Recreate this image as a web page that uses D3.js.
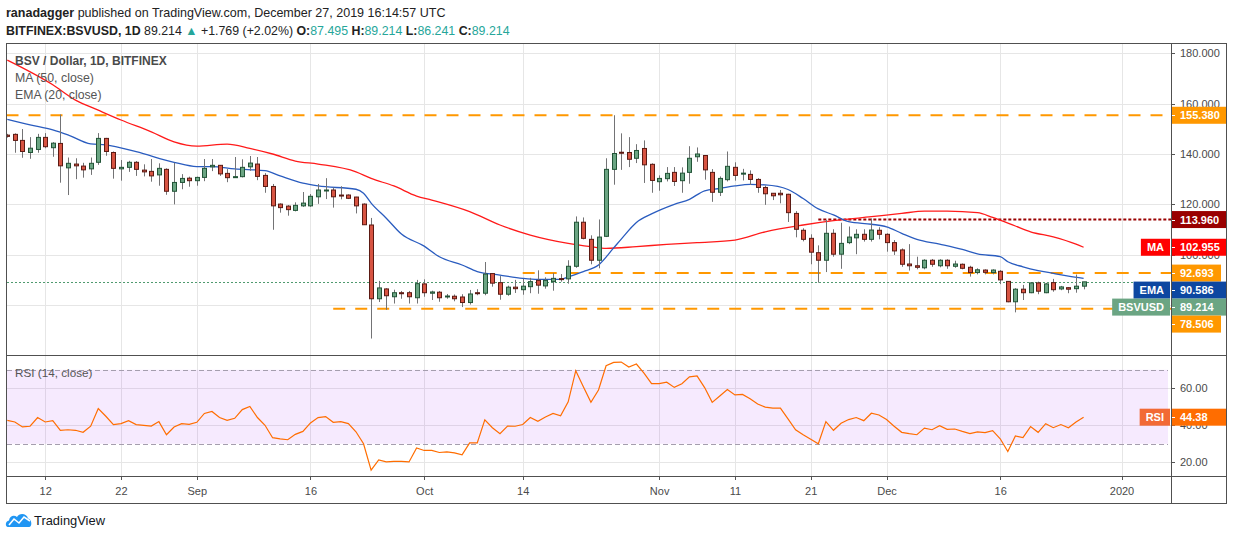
<!DOCTYPE html>
<html>
<head>
<meta charset="utf-8">
<script src="https://cdn.jsdelivr.net/npm/d3@7/dist/d3.min.js"></script>
<style>
html,body{margin:0;padding:0;background:#ffffff;}
svg{display:block;}
text{font-family:"Liberation Sans",Arial,sans-serif;}
</style>
</head>
<body>
<svg id="chart" width="1234" height="540"></svg>
<script>
// ---------------- DATA ----------------
const firstDay = "2019-08-07";
const lastDay = "2019-12-27";

const opens = [147.5,147.8,145.4,140.6,141.8,146.6,142.5,144.2,134.5,136.0,
135.2,134.1,136.7,146.2,140.6,134.1,134.7,136.7,133.6,133.1,
131.7,133.9,125.2,128.7,130.4,129.4,130.7,134.9,135.5,132.3,
130.9,131.0,134.9,136.0,131.5,127.1,120.1,119.3,117.6,119.4,
119.4,123.0,125.4,125.7,123.7,123.7,122.9,120.1,111.8,82.5,
86.4,83.3,84.9,84.9,82.9,88.4,84.7,85.1,83.3,83.5,
83.2,81.0,84.9,84.7,92.5,88.9,84.3,87.1,86.1,87.3,
89.8,87.6,89.3,90.5,90.4,95.4,112.9,106.1,97.8,107.3,
133.9,140.7,140.6,138.3,142.2,135.9,129.0,130.2,132.7,129.4,
132.7,138.9,139.4,132.7,124.8,129.8,134.7,132.0,131.9,129.9,
126.7,124.4,124.4,124.0,116.4,109.7,106.5,100.8,97.8,108.5,
100.2,104.8,106.7,108.1,106.1,109.7,108.1,104.8,101.9,96.3,
95.6,94.8,97.8,95.6,97.8,95.4,96.2,95.0,92.9,93.9,
92.9,93.4,89.4,81.3,86.3,84.9,88.8,84.9,88.9,86.4,
86.9,86.5,87.495];

const highs = [148.0,148.2,149.9,146.7,148.0,148.3,144.7,155.7,138.6,138.3,
136.5,138.6,148.3,146.4,141.0,137.6,137.3,137.2,135.9,138.0,
136.3,134.3,136.5,132.0,131.0,131.0,138.0,138.0,135.6,134.0,
138.8,137.9,139.2,138.8,132.4,128.1,120.4,119.7,120.8,124.9,
124.1,128.1,130.4,126.7,127.2,124.0,123.0,120.4,114.6,89.6,
86.7,86.1,85.6,85.6,90.0,90.2,85.7,85.6,84.4,84.2,
84.3,86.0,86.3,97.1,92.7,91.5,87.7,90.0,90.4,90.8,
93.8,91.0,92.7,92.3,97.8,115.2,114.8,107.7,114.0,138.3,
155.4,148.2,146.7,143.9,145.4,136.3,131.5,134.8,134.8,134.7,
143.1,142.6,139.5,134.0,131.1,141.0,136.7,134.1,133.5,130.4,
127.5,124.5,125.7,124.2,117.3,110.5,108.1,103.7,113.8,110.1,
112.7,111.2,110.1,110.1,114.4,110.9,108.5,105.8,102.5,104.2,
99.2,98.2,98.3,98.2,98.2,97.6,96.5,95.6,94.6,94.2,
94.2,93.9,89.5,86.7,88.0,89.0,89.3,88.8,90.4,87.6,
87.1,92.1,89.214];

const lows = [146.5,140.5,138.5,138.1,140.5,142.3,138.9,128.6,123.7,130.0,
130.6,131.7,135.7,139.3,130.2,129.4,132.9,131.3,131.1,129.0,
127.4,123.8,120.0,126.0,127.0,127.4,129.2,133.2,131.3,128.8,
130.6,130.7,133.3,129.6,124.6,109.9,116.7,115.5,117.2,119.0,
119.0,120.2,122.1,118.7,122.0,122.1,116.4,111.8,66.7,81.2,
78.1,80.6,82.5,80.6,80.6,83.3,82.0,81.3,82.5,81.5,
79.2,80.2,83.9,83.9,87.3,82.1,83.7,84.8,84.1,84.7,
84.5,86.5,85.7,89.3,88.5,94.8,106.1,96.2,94.6,107.0,
127.8,133.7,134.8,136.4,128.5,124.6,125.4,129.1,127.3,124.6,
128.2,136.9,129.8,121.0,123.3,129.1,129.4,129.5,127.7,124.6,
119.8,121.7,120.4,113.0,106.9,105.3,96.2,88.9,93.1,99.2,
94.4,104.2,100.2,105.2,105.2,106.1,101.2,99.9,95.2,93.7,
94.2,94.2,95.2,95.0,94.4,94.8,94.2,91.3,92.2,92.2,
92.2,88.3,81.1,77.1,82.0,84.7,84.3,84.7,85.3,85.9,
84.7,84.9,86.241];

const closes = [147.0,145.4,141.0,142.3,146.6,142.9,144.3,135.3,136.3,135.3,
133.7,136.3,146.2,141.0,134.3,134.7,136.7,133.9,132.9,131.3,
134.3,125.2,128.7,130.3,129.4,130.7,134.3,135.5,132.1,130.6,
131.0,134.7,136.4,131.1,127.1,119.4,118.7,117.9,119.6,120.5,
123.2,125.7,125.7,123.0,123.3,122.4,119.4,111.9,82.5,86.8,
83.7,84.9,84.5,83.3,88.5,84.9,85.2,82.9,83.6,82.5,
81.0,84.4,84.7,92.3,88.7,84.3,87.1,86.5,87.5,89.3,
87.9,89.8,90.6,90.1,95.4,112.9,106.5,97.8,107.0,133.9,
140.2,140.3,137.9,141.4,135.7,129.5,130.3,132.3,129.1,132.4,
138.3,140.0,133.7,124.8,130.3,135.1,131.5,132.4,129.9,126.7,
124.2,123.4,123.8,116.7,110.1,106.1,101.0,97.8,108.5,100.2,
104.5,107.0,108.1,106.1,109.8,108.1,104.8,101.5,96.2,95.6,
95.0,97.8,96.2,97.8,95.6,96.3,94.6,92.9,94.0,93.0,
93.9,90.0,81.3,86.3,84.9,88.8,85.5,88.4,86.1,87.2,
86.3,87.495,89.214];

const rsiValues = [42.7,41.8,39.1,39.5,44.2,41.8,42.5,37.3,37.6,37.3,
36.2,39.5,49.1,44.9,40.4,40.9,42.5,40.4,40.0,39.6,
42.0,34.9,39.1,40.9,40.5,41.6,46.4,47.5,44.2,42.7,
43.8,48.5,50.2,44.2,40.0,33.3,32.7,32.2,35.1,36.7,
41.3,44.2,44.7,41.6,42.0,40.9,36.5,30.0,15.8,21.3,
20.2,20.5,20.5,20.2,27.8,26.4,26.4,25.3,25.6,25.1,
24.0,30.5,30.5,42.9,38.7,35.5,39.6,39.5,40.4,44.2,
42.2,44.5,46.4,45.1,52.7,69.5,60.9,52.4,59.1,72.2,
74.0,74.2,71.5,73.1,68.2,62.5,62.5,63.3,60.5,62.5,
66.2,66.7,60.4,52.4,55.8,59.3,56.4,56.7,54.4,51.5,
49.8,49.3,49.3,43.5,37.6,34.9,32.5,30.0,42.0,37.3,
41.1,43.1,44.2,42.5,46.5,45.6,43.1,39.5,36.2,35.5,
34.9,38.5,37.6,39.8,37.8,38.0,36.7,35.5,36.4,36.0,
37.1,32.7,25.8,34.2,33.3,39.3,36.2,40.9,38.7,40.4,
38.7,41.8,44.38];

// MA (50)
const maDates = ["2019-08-07","2019-08-13","2019-08-16","2019-08-19","2019-08-22","2019-08-26","2019-08-29",
"2019-09-01","2019-09-05","2019-09-08","2019-09-11","2019-09-14","2019-09-17","2019-09-22","2019-09-24",
"2019-09-27","2019-09-30","2019-10-02","2019-10-07","2019-10-11","2019-10-15","2019-10-20","2019-10-23",
"2019-10-25","2019-10-29","2019-11-02","2019-11-06","2019-11-11","2019-11-15","2019-11-20","2019-11-24",
"2019-11-29","2019-12-03","2019-12-06","2019-12-09","2019-12-13","2019-12-15","2019-12-18","2019-12-20",
"2019-12-23","2019-12-26","2019-12-27"];
const maValues = [177.3,167.5,161.4,157.4,153.5,148.8,144.8,
143.1,143.9,142.2,140.0,137.2,136.0,132.9,130.3,
127.3,123.3,121.7,117.1,111.8,107.8,104.5,103.2,
102.5,103.2,104.1,104.8,105.8,109.1,111.8,113.5,
115.1,116.4,117.3,117.3,116.7,114.8,111.4,109.1,
107.1,104.2,102.955];

// EMA (20)
const emaDates = ["2019-08-07","2019-08-10","2019-08-13","2019-08-15","2019-08-18","2019-08-20","2019-08-24",
"2019-08-29","2019-09-01","2019-09-03","2019-09-06","2019-09-10","2019-09-12","2019-09-15","2019-09-17",
"2019-09-22","2019-09-23","2019-09-24","2019-09-26","2019-09-28","2019-10-01","2019-10-03","2019-10-06",
"2019-10-08","2019-10-11","2019-10-14","2019-10-16","2019-10-19","2019-10-20","2019-10-22","2019-10-24",
"2019-10-26","2019-10-27","2019-10-29","2019-10-31","2019-11-03","2019-11-05","2019-11-07","2019-11-09",
"2019-11-11","2019-11-13","2019-11-15","2019-11-18","2019-11-20","2019-11-22","2019-11-24","2019-11-26",
"2019-11-29","2019-12-01","2019-12-03","2019-12-05","2019-12-08","2019-12-11","2019-12-13","2019-12-16",
"2019-12-17","2019-12-19","2019-12-21","2019-12-23","2019-12-25","2019-12-27"];
const emaValues = [153.8,151.6,149.6,147.6,144.0,143.6,140.9,
136.7,135.0,135.0,134.1,133.4,131.3,128.4,127.3,
126.0,124.4,120.5,114.5,108.2,103.4,99.2,95.9,
93.3,91.9,90.6,90.2,90.2,91.2,93.3,95.9,
102.7,106.2,112.8,116.2,120.0,122.0,125.4,126.3,
127.3,127.9,127.7,125.9,122.3,118.2,115.8,113.1,
112.1,111.1,108.5,106.1,104.2,102.1,100.3,99.2,
97.2,95.2,93.7,92.6,91.5,90.586];

// horizontal levels drawn on the chart
const levelValues = [155.38, 92.693, 78.506];
const levelStarts = [null, "2019-10-14", "2019-09-19"];
const resistanceValue = 113.96;
const resistanceStart = "2019-11-22";

// axis ticks
const priceTicks = [80, 100, 120, 140, 160, 180];
const rsiTicks = [20, 40, 60];
const timeTickDates = ["2019-08-12","2019-08-22","2019-09-01","2019-09-16","2019-10-01","2019-10-14",
"2019-11-01","2019-11-11","2019-11-21","2019-12-01","2019-12-16","2020-01-01"];
const timeTickLabels = ["12","22","Sep","16","Oct","14","Nov","11","21","Dec","16","2020"];

const lastClose = 89.214, lastMA = 102.955, lastEMA = 90.586, lastRSI = 44.38;

// ---------------- LAYOUT ----------------
const svg = d3.select("#chart");
const L = 6.5, AX = 1171, R = 1226.5, T = 43, MB = 355.5, RB = 476, B = 503;
const parse = d3.utcParse("%Y-%m-%d");
const days = d3.utcDay.range(parse(firstDay), d3.utcDay.offset(parse(lastDay), 1));
const candles = days.map((d, i) => ({date: d, o: opens[i], h: highs[i], l: lows[i], c: closes[i], rsi: rsiValues[i]}));

const x = d3.scaleUtc().domain([parse("2019-08-07"), parse("2020-01-01")]).range([7.3, 1121.5]);
const y = d3.scaleLinear().domain([100, 180]).range([254.7, 53.3]);
const yr = d3.scaleLinear().domain([20, 60]).range([462.3, 388.3]);

const defs = svg.append("defs");
defs.append("clipPath").attr("id", "clipMain").append("rect").attr("x", L).attr("y", T).attr("width", AX - L).attr("height", MB - T);
defs.append("clipPath").attr("id", "clipRsi").append("rect").attr("x", L).attr("y", MB).attr("width", AX - L).attr("height", RB - MB);

svg.append("rect").attr("width", 1234).attr("height", 540).attr("fill", "#fff");

// grid
const grid = svg.append("g").attr("shape-rendering", "crispEdges");
timeTickDates.forEach(s => {
  const xx = Math.round(x(parse(s))) + 0.5;
  grid.append("line").attr("x1", xx).attr("x2", xx).attr("y1", T).attr("y2", RB).attr("stroke", "#e6e6e6");
});
priceTicks.forEach(v => {
  const yy = Math.round(y(v)) + 0.5;
  grid.append("line").attr("x1", L).attr("x2", AX).attr("y1", yy).attr("y2", yy).attr("stroke", "#e6e6e6");
});
rsiTicks.forEach(v => {
  const yy = Math.round(yr(v)) + 0.5;
  grid.append("line").attr("x1", L).attr("x2", AX).attr("y1", yy).attr("y2", yy).attr("stroke", "#e6e6e6");
});

// RSI band
svg.append("rect").attr("x", L).attr("width", AX - L - 3).attr("y", yr(70)).attr("height", yr(30) - yr(70))
  .attr("fill", "rgba(150,20,240,0.09)");
[70, 30].forEach(v => {
  svg.append("line").attr("x1", L).attr("x2", AX - 3).attr("y1", Math.round(yr(v)) + 0.5).attr("y2", Math.round(yr(v)) + 0.5)
    .attr("stroke", "#a59eae").attr("stroke-dasharray", "5,3").attr("shape-rendering", "crispEdges");
});

// main pane contents
const main = svg.append("g").attr("clip-path", "url(#clipMain)");

// level lines
levelValues.forEach((v, i) => {
  const x0 = levelStarts[i] ? x(parse(levelStarts[i])) : L;
  main.append("line").attr("x1", x0).attr("x2", AX).attr("y1", y(v)).attr("y2", y(v))
    .attr("stroke", "#ff9800").attr("stroke-width", 2).attr("stroke-dasharray", "12,10");
});
main.append("line").attr("x1", x(parse(resistanceStart))).attr("x2", AX).attr("y1", y(resistanceValue)).attr("y2", y(resistanceValue))
  .attr("stroke", "#990000").attr("stroke-width", 2).attr("stroke-dasharray", "3,2");
// current price line
main.append("line").attr("x1", L).attr("x2", AX).attr("y1", Math.round(y(lastClose)) + 0.5).attr("y2", Math.round(y(lastClose)) + 0.5)
  .attr("stroke", "#4f9a6f").attr("stroke-dasharray", "2,2").attr("shape-rendering", "crispEdges");

// MA and EMA
const lineGen = d3.line().x(d => x(d[0])).y(d => y(d[1])).curve(d3.curveMonotoneX);
main.append("path").datum(maDates.map((s, i) => [parse(s), maValues[i]])).attr("d", lineGen)
  .attr("fill", "none").attr("stroke", "#ff1a1a").attr("stroke-width", 1.3);
main.append("path").datum(emaDates.map((s, i) => [parse(s), emaValues[i]])).attr("d", lineGen)
  .attr("fill", "none").attr("stroke", "#2a5cbf").attr("stroke-width", 1.3);

// candles
const cg = main.append("g");
candles.forEach(d => {
  const cx = Math.round(x(d.date));
  const up = d.c >= d.o;
  cg.append("line").attr("x1", cx + 0.5).attr("x2", cx + 0.5).attr("y1", y(d.h)).attr("y2", y(d.l))
    .attr("stroke", "#737375").attr("stroke-width", 1);
  const yt = y(Math.max(d.o, d.c)), yb = y(Math.min(d.o, d.c));
  cg.append("rect").attr("x", cx - 1.5).attr("width", 4).attr("y", yt).attr("height", Math.max(1, yb - yt))
    .attr("fill", up ? "#6ba583" : "#d75442").attr("stroke", up ? "#225437" : "#5b1a13").attr("stroke-width", 1);
});

// RSI line
const rsiG = svg.append("g").attr("clip-path", "url(#clipRsi)");
rsiG.append("path").datum(candles).attr("d", d3.line().x(d => x(d.date)).y(d => yr(d.rsi)))
  .attr("fill", "none").attr("stroke", "#ff6d00").attr("stroke-width", 1.2);

// axes
function styleAxis(g) {
  g.select(".domain").remove();
  g.selectAll(".tick line").attr("stroke", "#555").attr("shape-rendering", "crispEdges");
  g.selectAll(".tick text").attr("fill", "#4a4a4a").attr("font-size", 11).attr("font-family", '"Liberation Sans", Arial, sans-serif');
}
svg.append("g").attr("transform", `translate(0,${RB})`)
  .call(d3.axisBottom(x).tickValues(timeTickDates.map(parse)).tickFormat((d, i) => timeTickLabels[i]).tickSize(4).tickPadding(7))
  .call(styleAxis);
svg.append("g").attr("transform", `translate(${AX},0)`)
  .call(d3.axisRight(y).tickValues(priceTicks).tickFormat(d3.format(".3f")).tickSize(4).tickPadding(5))
  .call(styleAxis);
svg.append("g").attr("transform", `translate(${AX},0)`)
  .call(d3.axisRight(yr).tickValues(rsiTicks).tickFormat(d3.format(".2f")).tickSize(4).tickPadding(5))
  .call(styleAxis);

// price labels on the axis, stacked to avoid overlap
const labels = [
  {v: levelValues[0], text: d3.format(".3f")(levelValues[0]), color: "#ff9800", w: 56},
  {v: resistanceValue, text: d3.format(".3f")(resistanceValue), color: "#990000", w: 56},
  {v: lastMA, text: d3.format(".3f")(lastMA), color: "#ff0000", w: 56, name: "MA"},
  {v: levelValues[1], text: d3.format(".3f")(levelValues[1]), color: "#ff9800", w: 50},
  {v: lastEMA, text: d3.format(".3f")(lastEMA), color: "#0d47a1", w: 56, name: "EMA"},
  {v: lastClose, text: d3.format(".3f")(lastClose), color: "#6ba583", w: 56, name: "BSVUSD"},
  {v: levelValues[2], text: d3.format(".3f")(levelValues[2]), color: "#ff9800", w: 50}
];
const LH = 17;
labels.forEach(l => l.y = y(l.v));
labels.sort((a, b) => a.y - b.y);
for (let i = 1; i < labels.length; i++) if (labels[i].y < labels[i - 1].y + LH) labels[i].y = labels[i - 1].y + LH;

const lg = svg.append("g");
function drawLabel(l, nameColor) {
  lg.append("rect").attr("x", AX).attr("y", l.y - LH / 2).attr("width", l.w).attr("height", LH).attr("fill", l.color);
  lg.append("line").attr("x1", AX).attr("x2", AX + 4).attr("y1", Math.round(l.y) + 0.5).attr("y2", Math.round(l.y) + 0.5)
    .attr("stroke", "#fff").attr("shape-rendering", "crispEdges");
  lg.append("text").attr("x", AX + 9).attr("y", l.y).attr("dy", "0.36em").attr("fill", "#fff")
    .attr("font-size", 11).attr("font-weight", "bold").text(l.text);
  if (l.name) {
    const nb = lg.append("rect").attr("y", l.y - LH / 2).attr("height", LH).attr("fill", nameColor || l.color);
    const t = lg.append("text").attr("y", l.y).attr("dy", "0.36em").attr("fill", "#fff")
      .attr("font-size", 11).attr("font-weight", "bold").attr("text-anchor", "middle").text(l.name);
    const bw = t.node().getComputedTextLength() + 12;
    nb.attr("x", AX - 1 - bw).attr("width", bw);
    t.attr("x", AX - 1 - bw / 2);
  }
}
labels.forEach(l => drawLabel(l));
// RSI label
drawLabel({y: yr(lastRSI), text: d3.format(".2f")(lastRSI), color: "#ff6d00", w: 56, name: "RSI"}, "#f26a35");

// frame
const fr = svg.append("g").attr("stroke", "#505050").attr("shape-rendering", "crispEdges").attr("fill", "none");
fr.append("rect").attr("x", L).attr("y", T).attr("width", R - L).attr("height", B - T);
fr.append("line").attr("x1", AX).attr("x2", AX).attr("y1", T).attr("y2", B);
fr.append("line").attr("x1", L).attr("x2", R).attr("y1", MB).attr("y2", MB);
fr.append("line").attr("x1", L).attr("x2", R).attr("y1", RB).attr("y2", RB);

// text helpers
function fit(t, width) {
  const fs = +t.attr("font-size");
  const w = t.node().getComputedTextLength();
  t.attr("font-size", fs * width / w);
}
const teal = "#26a69a";
const h1 = svg.append("text").attr("x", 6).attr("y", 17).attr("font-size", 13.5).attr("fill", "#222");
h1.append("tspan").attr("font-weight", "bold").text("ranadagger");
h1.append("tspan").text(" published on TradingView.com, December 27, 2019 16:14:57 UTC");
fit(h1, 440);

const h2 = svg.append("text").attr("x", 6).attr("y", 35).attr("font-size", 13.5).attr("fill", "#222");
h2.append("tspan").attr("font-weight", "bold").text("BITFINEX:BSVUSD, 1D");
h2.append("tspan").text("  89.214 ");
h2.append("tspan").attr("fill", teal).text("▲");
h2.append("tspan").text(" +1.769 (+2.02%) ");
[["O:", "87.495"], [" H:", "89.214"], [" L:", "86.241"], [" C:", "89.214"]].forEach(p => {
  h2.append("tspan").attr("font-weight", "bold").text(p[0]);
  h2.append("tspan").attr("fill", teal).text(p[1]);
});
fit(h2, 504);

const leg1 = svg.append("text").attr("x", 15).attr("y", 65).attr("font-size", 13).attr("fill", "#4a4a4a").attr("font-weight", "bold").text("BSV / Dollar, 1D, BITFINEX");
fit(leg1, 152);
const leg2 = svg.append("text").attr("x", 15).attr("y", 82).attr("font-size", 13).attr("fill", "#555").text("MA (50, close)");
fit(leg2, 79);
const leg3 = svg.append("text").attr("x", 15).attr("y", 99).attr("font-size", 13).attr("fill", "#555").text("EMA (20, close)");
fit(leg3, 86.5);
const leg4 = svg.append("text").attr("x", 15).attr("y", 377).attr("font-size", 13).attr("fill", "#555").text("RSI (14, close)");
fit(leg4, 77.5);

// TradingView logo
const logo = svg.append("g");
logo.append("path").attr("d", "M8,527 C5,527 5,521 9,520.5 C9.5,516 14,514.5 17,517 C19,512.5 27,513 28,518.5 C32,519 32.5,527 29,527 Z").attr("fill", "#2196f3");
logo.append("path").attr("d", "M9,525 L14,519 L19,523 L24,517 L30,521").attr("fill", "none").attr("stroke", "#fff").attr("stroke-width", 1.6);
const lt = svg.append("text").attr("x", 34).attr("y", 525).attr("font-size", 14).attr("fill", "#131722").text("TradingView");
fit(lt, 71);
</script>
</body>
</html>
